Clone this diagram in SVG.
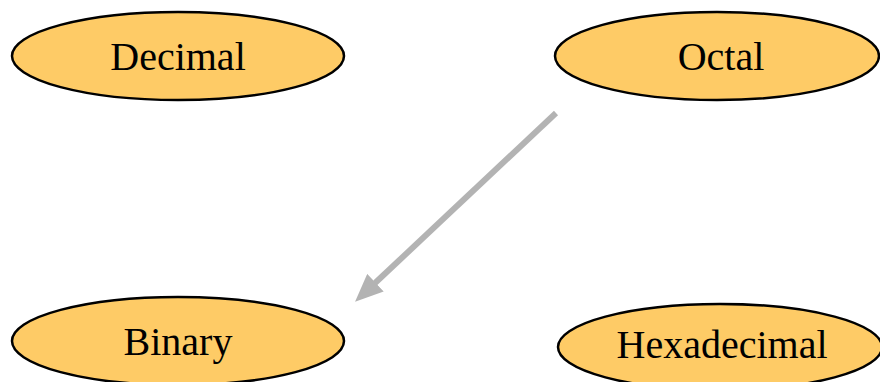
<svg xmlns="http://www.w3.org/2000/svg" width="880" height="382" viewBox="0 0 880 382">
<style>
.node ellipse{fill:#fecb66;stroke:#000;stroke-width:2.5}
.node text{font-family:"Liberation Serif","Times New Roman",serif;font-size:40px;fill:#000;text-anchor:middle}
.edge{stroke:#b3b3b3;stroke-width:6;fill:none}
</style>
<defs>
<marker id="ah" markerUnits="userSpaceOnUse" markerWidth="28" markerHeight="24" refX="2" refY="12" orient="auto">
<polygon points="0,0 28,12 0,24" fill="#b3b3b3"/>
</marker>
</defs>
<rect width="880" height="382" fill="#fff"/>
<g id="connectors">
<line class="edge" x1="556" y1="113" x2="374" y2="284" marker-end="url(#ah)"/>
</g>
<g id="decimal" class="node">
<ellipse cx="178" cy="56" rx="166" ry="44"/>
<text x="178" y="70">Decimal</text>
</g>
<g id="octal" class="node">
<ellipse cx="717" cy="56" rx="162" ry="44"/>
<text x="721" y="70">Octal</text>
</g>
<g id="binary" class="node">
<ellipse cx="178" cy="341" rx="166" ry="44"/>
<text x="178" y="355">Binary</text>
</g>
<g id="hexadecimal" class="node">
<ellipse cx="720" cy="347" rx="162" ry="43"/>
<text x="722" y="358">Hexadecimal</text>
</g>
</svg>
